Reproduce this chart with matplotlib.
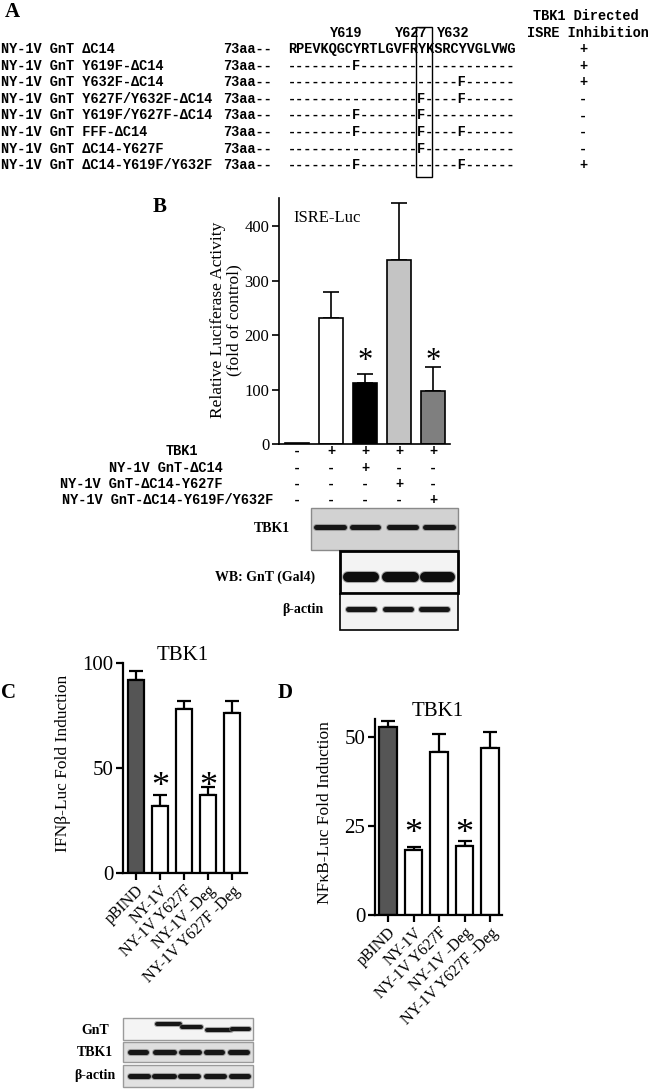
import matplotlib
matplotlib.use("Agg")
import matplotlib.pyplot as plt
from matplotlib.patches import Rectangle
from matplotlib import transforms

# ---- panel A: sequence alignment ----
a_names = ["NY-1V GnT \u0394C14", "NY-1V GnT Y619F-\u0394C14", "NY-1V GnT Y632F-\u0394C14",
           "NY-1V GnT Y627F/Y632F-\u0394C14", "NY-1V GnT Y619F/Y627F-\u0394C14",
           "NY-1V GnT FFF-\u0394C14", "NY-1V GnT \u0394C14-Y627F", "NY-1V GnT \u0394C14-Y619F/Y632F"]
a_mutations = [None, [619], [632], [627, 632], [619, 627], [619, 627, 632], [627], [619, 632]]
a_inhibition = ["+", "+", "+", "-", "-", "-", "-", "+"]
wt_seq = "RPEVKQGCYRTLGVFRYKSRCYVGLVWG"
seq_start = 611

# ---- panel B: ISRE-Luc ----
b_means = [1, 231, 112, 338, 98]
b_err = [0, 48, 17, 105, 44]
b_colors = ["white", "white", "black", "#c4c4c4", "#7f7f7f"]
b_star = [2, 4]
b_rows = ["TBK1", "NY-1V GnT-\u0394C14", "NY-1V GnT-\u0394C14-Y627F", "NY-1V GnT-\u0394C14-Y619F/Y632F"]
b_signs = [["-", "+", "+", "+", "+"],
           ["-", "-", "+", "-", "-"],
           ["-", "-", "-", "+", "-"],
           ["-", "-", "-", "-", "+"]]

# ---- panels C / D ----
cd_labels = ["pBIND", "NY-1V", "NY-1V Y627F", "NY-1V -Deg", "NY-1V Y627F -Deg"]
cd_colors = ["#555555", "white", "white", "white", "white"]
c_means = [92, 32, 78, 37, 76]
c_err = [4, 5, 4, 4, 6]
d_means = [52.7, 18.2, 45.6, 19.3, 46.8]
d_err = [1.6, 0.8, 5.1, 1.4, 4.5]
cd_star = [1, 3]

plt.rcParams["font.family"] = ["Liberation Serif", "DejaVu Serif"]
mono = dict(family=["Liberation Mono", "DejaVu Sans Mono"], weight="bold", fontsize=9.8)

W, H = 650, 1089
fig = plt.figure(figsize=(6.5, 10.89), dpi=100)
bg = fig.add_axes([0, 0, 1, 1])
bg.set_xlim(0, W)
bg.set_ylim(H, 0)
bg.axis("off")


def axes_px(left, top, right, bottom):
    return fig.add_axes([left / W, 1 - bottom / H, (right - left) / W, (bottom - top) / H])


def band(x0, x1, y, thick, color="#161616"):
    bg.plot([x0 + thick / 2, x1 - thick / 2], [y, y], color="#777777", lw=thick * 0.72 + 1.5,
            solid_capstyle="round", alpha=0.6)
    bg.plot([x0 + thick / 2, x1 - thick / 2], [y, y], color=color, lw=thick * 0.72,
            solid_capstyle="round")


def style_axes(ax, lw):
    for s in ["top", "right"]:
        ax.spines[s].set_visible(False)
    for s in ["left", "bottom"]:
        ax.spines[s].set_linewidth(lw)
    ax.tick_params(direction="out", width=lw, length=5, pad=2)
    ax.set_facecolor("none")


def bars(ax, means, errs, colors, width, cap, lw):
    x = list(range(len(means)))
    ax.bar(x, means, width=width, color=colors, edgecolor="black", linewidth=lw, zorder=2)
    for i in x:
        if errs[i] > 0:
            ax.errorbar([i], [means[i]], yerr=[[0], [errs[i]]], fmt="none", ecolor="black",
                        elinewidth=lw, capsize=cap, capthick=lw, zorder=1)
    return x


def stars(ax, idx, y, fs):
    for i in idx:
        ax.annotate("*", (i, y), xytext=(0, -0.55 * fs), textcoords="offset points",
                    ha="center", va="baseline", fontsize=fs)


# ================= Panel A =================
bg.text(12, 12, "A", fontsize=15, weight="bold", ha="center", va="center")
bg.text(533, 16, "TBK1 Directed", ha="left", va="center", **mono)
bg.text(527, 33, "ISRE Inhibition", ha="left", va="center", **mono)
for lab, xl in [("Y619", 330), ("Y627", 395), ("Y632", 437)]:
    bg.text(xl, 33, lab, ha="left", va="center", **mono)
for r, name in enumerate(a_names):
    y = 49 + 16.6 * r
    if a_mutations[r] is None:
        seq = wt_seq
    else:
        chars = ["-"] * len(wt_seq)
        for m in a_mutations[r]:
            chars[m - seq_start] = "F"
        seq = "".join(chars)
    bg.text(1, y, name, ha="left", va="center", **mono)
    bg.text(223, y, "73aa--", ha="left", va="center", **mono)
    bg.text(288, y, seq, ha="left", va="center", **mono)
    bg.text(583, y, a_inhibition[r], ha="center", va="center", **mono)
bg.add_patch(Rectangle((416, 27), 16, 150, fill=False, edgecolor="black", lw=1.0))

# ================= Panel B =================
bg.text(160, 207, "B", fontsize=15, weight="bold", ha="center", va="center")
axb = axes_px(279, 198, 450, 444)
style_axes(axb, 1.2)
xb = bars(axb, b_means, b_err, b_colors, 0.7, 6, 1.2)
axb.set_xlim(-0.53, 4.5)
axb.set_ylim(0, 452)
axb.set_yticks([0, 100, 200, 300, 400])
axb.set_xticks([])
axb.tick_params(axis="y", labelsize=12)
stars(axb, b_star, 168, 22)
bg.text(293, 218, "ISRE-Luc", fontsize=12, ha="left", va="center")
bg.text(226, 320, "Relative Luciferase Activity\n(fold of control)", fontsize=12.5,
        rotation=90, ha="center", va="center", linespacing=1.0)

trb = transforms.blended_transform_factory(axb.transData, bg.transData)
row_y = [451, 468, 484, 500]
row_right = [198, 223, 223, 273]
for r, lab in enumerate(b_rows):
    bg.text(row_right[r], row_y[r], lab, ha="right", va="center", **mono)
    for i in xb:
        axb.text(i, row_y[r], b_signs[r][i], transform=trb, ha="center", va="center",
                 clip_on=False, **mono)

# western blots for B
bg.add_patch(Rectangle((311, 508), 147, 42, facecolor="#d2d2d2", edgecolor="#8a8a8a", lw=1))
for x0, x1 in [(313, 346), (349, 380), (386, 418), (422, 455)]:
    band(x0, x1, 527, 5)
bg.add_patch(Rectangle((340, 551), 118, 42, facecolor="#f3f3f3", edgecolor="black", lw=2))
for x0, x1 in [(343, 379), (382, 419), (420, 455)]:
    band(x0, x1, 577, 10, "#0d0d0d")
bg.add_patch(Rectangle((340, 594), 118, 36, facecolor="#f3f3f3", edgecolor="black", lw=1.2))
for x0, x1 in [(345, 376), (382, 413), (418, 449)]:
    band(x0, x1, 609, 5)
bg.text(272, 528, "TBK1", fontsize=10, weight="bold", ha="center", va="center")
bg.text(265, 577, "WB: GnT (Gal4)", fontsize=10, weight="bold", ha="center", va="center")
bg.text(303, 609, "\u03b2-actin", fontsize=10, weight="bold", ha="center", va="center")

# ================= Panel C =================
bg.text(9, 693, "C", fontsize=15, weight="bold", ha="center", va="center")
axc = axes_px(123, 663, 247, 873)
style_axes(axc, 1.6)
xc = bars(axc, c_means, c_err, cd_colors, 0.68, 4.8, 1.6)
axc.set_xlim(-0.54, 4.63)
axc.set_ylim(0, 100)
axc.set_yticks([0, 50, 100])
axc.tick_params(axis="y", labelsize=15)
axc.set_xticks(xc)
axc.set_xticklabels(cd_labels, rotation=45, ha="right", rotation_mode="anchor", fontsize=11.5)
stars(axc, cd_star, 46, 26)
bg.text(183, 655, "TBK1", fontsize=15, ha="center", va="center")
bg.text(63, 763, "IFN\u03b2-Luc Fold Induction", fontsize=12.5, rotation=90,
        ha="center", va="center")

# western blots for C
bg.add_patch(Rectangle((123, 1018), 130, 22, facecolor="#f4f4f4", edgecolor="#9a9a9a", lw=1))
for x0, x1, y in [(155, 182, 1024), (180, 203, 1027), (205, 233, 1030), (230, 251, 1029)]:
    band(x0, x1, y, 4)
bg.add_patch(Rectangle((123, 1042), 130, 20, facecolor="#dedede", edgecolor="#9a9a9a", lw=1))
for x0, x1 in [(127, 148), (152, 176), (178, 201), (203, 224), (227, 249)]:
    band(x0, x1, 1052, 5)
bg.add_patch(Rectangle((123, 1065), 130, 22, facecolor="#e2e2e2", edgecolor="#9a9a9a", lw=1))
for x0, x1 in [(127, 150), (151, 176), (177, 200), (203, 226), (228, 250)]:
    band(x0, x1, 1076, 5)
bg.text(95, 1030, "GnT", fontsize=10, weight="bold", ha="center", va="center")
bg.text(95, 1052, "TBK1", fontsize=10, weight="bold", ha="center", va="center")
bg.text(95, 1076, "\u03b2-actin", fontsize=10, weight="bold", ha="center", va="center")

# ================= Panel D =================
bg.text(285, 693, "D", fontsize=15, weight="bold", ha="center", va="center")
axd = axes_px(375, 719, 502, 915)
style_axes(axd, 1.6)
xd = bars(axd, d_means, d_err, cd_colors, 0.7, 4.8, 1.6)
axd.set_xlim(-0.51, 4.47)
axd.set_ylim(0, 55)
axd.set_yticks([0, 25, 50])
axd.tick_params(axis="y", labelsize=15)
axd.set_xticks(xd)
axd.set_xticklabels(cd_labels, rotation=45, ha="right", rotation_mode="anchor", fontsize=11.5)
stars(axd, cd_star, 25.8, 26)
bg.text(438, 711, "TBK1", fontsize=15, ha="center", va="center")
bg.text(325, 813, "NF\u03baB-Luc Fold Induction", fontsize=12.5, rotation=90,
        ha="center", va="center")

fig.savefig("out.png", dpi=100)
